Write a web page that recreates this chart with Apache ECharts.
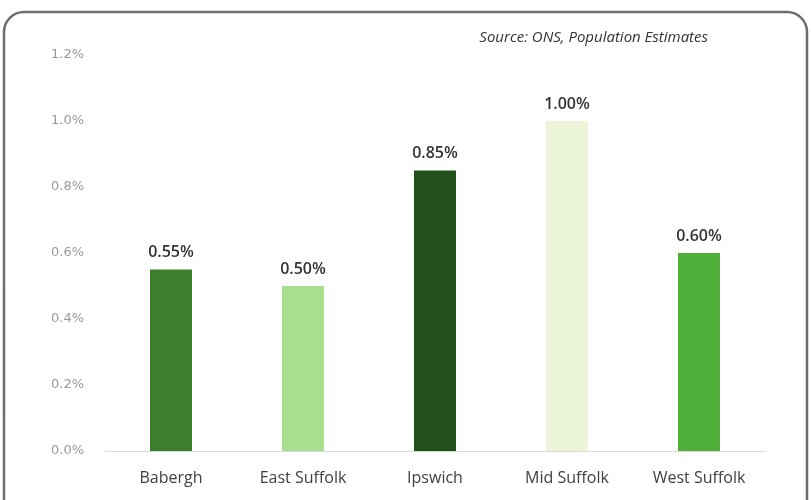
<!DOCTYPE html>
<html>
<head>
<meta charset="utf-8">
<script src="https://cdn.jsdelivr.net/npm/echarts@6/dist/echarts.min.js"></script>
<style>
  html, body { margin: 0; padding: 0; background: #fff; }
  #chart { width: 811px; height: 500px; }
</style>
</head>
<body>
<div id="chart"></div>
<script>
  // 地区 & 人口增长率（%）
  var districts = ['Babergh', 'East Suffolk', 'Ipswich', 'Mid Suffolk', 'West Suffolk'];
  var growth = [0.55, 0.50, 0.85, 1.00, 0.60];
  var barColors = ['#3b7f2c', '#a6e08f', '#22501a', '#ecf5d8', '#4fb039'];
  var yTicks = [0, 0.2, 0.4, 0.6, 0.8, 1.0, 1.2];
  var sourceText = 'Source: ONS, Population Estimates';

  var myChart = echarts.init(document.getElementById('chart'));

  myChart.setOption({
    animation: false,
    title: {
      text: sourceText,
      right: 98,
      top: 25,
      textStyle: {
        fontFamily: 'Open Sans',
        fontStyle: 'italic',
        fontWeight: 'normal',
        fontSize: 15,
        color: '#333'
      }
    },
    graphic: [{
      type: 'rect',
      shape: { x: 4, y: 12, width: 803, height: 520, r: 20 },
      style: { fill: 'none', stroke: '#6e6e6e', lineWidth: 2.5 },
      silent: true
    }],
    grid: {
      left: 105,
      right: 46,
      top: 55,
      bottom: 49
    },
    xAxis: {
      type: 'category',
      data: districts,
      axisTick: { show: false },
      axisLine: { lineStyle: { color: '#d9d9d9', width: 1 } },
      axisLabel: {
        margin: 19,
        fontFamily: 'Open Sans',
        fontSize: 16,
        color: '#404040'
      }
    },
    yAxis: {
      type: 'value',
      min: yTicks[0],
      max: yTicks[yTicks.length - 1],
      interval: 0.2,
      axisLine: { show: false },
      axisTick: { show: false },
      splitLine: { show: false },
      axisLabel: {
        margin: 21,
        fontFamily: 'DejaVu Sans',
        fontSize: 13,
        color: '#999',
        formatter: function (v) { return v.toFixed(1) + '%'; }
      }
    },
    series: [{
      type: 'bar',
      data: growth.map(function (v, i) {
        return { value: v, itemStyle: { color: barColors[i] } };
      }),
      barWidth: 42,
      label: {
        show: true,
        position: 'top',
        distance: 9,
        fontFamily: 'Open Sans',
        fontSize: 16,
        fontWeight: 600,
        color: '#333',
        formatter: function (p) { return p.value.toFixed(2) + '%'; }
      }
    }]
  });
</script>
</body>
</html>
